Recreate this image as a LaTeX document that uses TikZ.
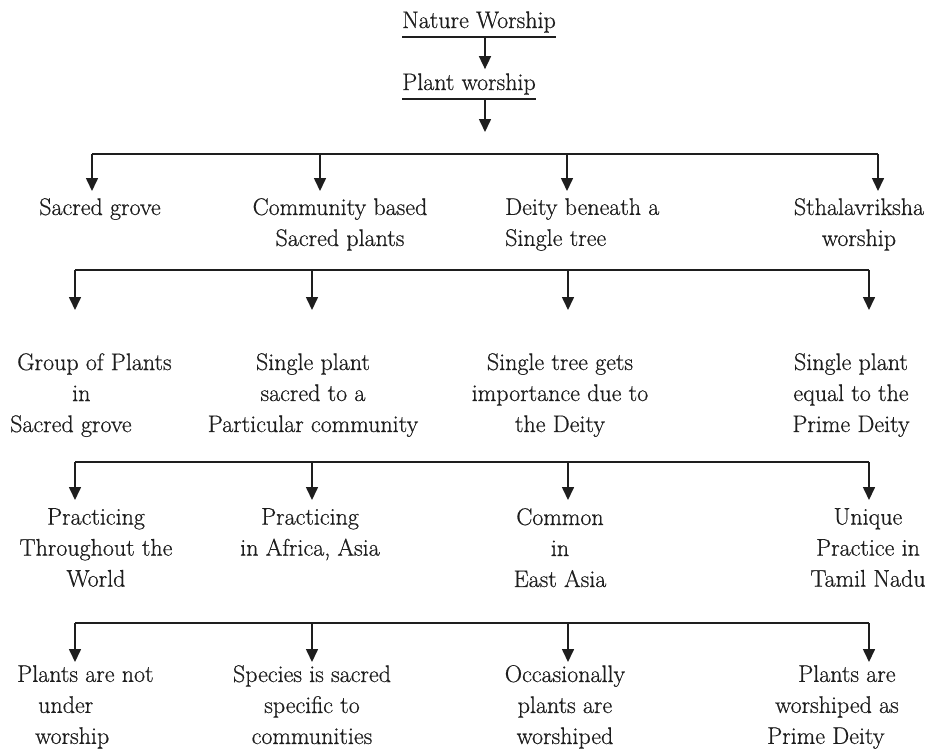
\documentclass[tikz,border=0pt]{standalone}
\usepackage{fontspec}
\setmainfont{Latin Modern Roman}[FakeBold=0.6]
\usetikzlibrary{arrows.meta}
\definecolor{ink}{HTML}{1E1E1E}
\begin{document}
\begin{tikzpicture}[x=1pt,y=-1pt,
  lbl/.style={font=\fontsize{24}{31}\selectfont, text=ink, inner sep=0pt, align=center, anchor=north},
  ttl/.style={font=\fontsize{24}{31}\selectfont, text=ink, inner xsep=0pt, inner ysep=4pt, anchor=base west},
  arr/.style={-{Triangle[width=12pt,length=13pt]}, line width=1.6pt, draw=ink},
  barline/.style={line width=1.6pt, draw=ink}]
\fill[white] (0,0) rectangle (942,753);
\useasboundingbox (0,0) rectangle (942,753);

% title
\node[ttl] (nw) at (402,28) {Nature Worship};
\node[ttl] (plw) at (402,90) {Plant worship};
\draw[barline] (nw.south west) -- (nw.south east);
\draw[barline] (plw.south west) -- (plw.south east);
\coordinate (ax) at (485,0);
\coordinate (t0) at (485,132);
\draw[arr] (nw.south -| ax) -- (plw.north -| ax);
\draw[arr] (plw.south -| ax) -- (t0);

% row 1
\node[lbl] (sg) at (100,198) {Sacred grove};
\node[lbl] (cb) at (340,198) {Community based\\Sacred plants};
\node[lbl, align=left, anchor=north west] (db) at (505,198) {Deity beneath a\\Single tree};
\node[lbl] (st) at (859,198) {Sthalavriksha\\worship};
\coordinate (b1a) at (92,154);
\coordinate (b1b) at (320,154);
\coordinate (b1c) at (567,154);
\coordinate (b1d) at (878,154);
\draw[barline] (b1a) -- (b1d);
\draw[arr] (b1a) -- (b1a |- 0,191);
\draw[arr] (b1b) -- (b1b |- 0,191);
\draw[arr] (b1c) -- (b1c |- 0,191);
\draw[arr] (b1d) -- (b1d |- 0,191);

% row 2
\node[lbl, align=left, anchor=north west] (gp) at (10,353) {\hspace*{7pt}Group of Plants\\\hspace*{62pt}in\\Sacred grove};
\node[lbl] (sp) at (313,353) {Single plant\\sacred to a\\Particular community};
\node[lbl] (stg) at (560,353) {Single tree gets\\importance due to\\the Deity};
\node[lbl] (spe) at (851,353) {Single plant\\equal to the\\Prime Deity};
\coordinate (b2a) at (75,270);
\coordinate (b2b) at (312,270);
\coordinate (b2c) at (568,270);
\coordinate (b2d) at (869,270);
\draw[barline] (b2a) -- (b2d);
\draw[arr] (b2a) -- (b2a |- 0,310);
\draw[arr] (b2b) -- (b2b |- 0,310);
\draw[arr] (b2c) -- (b2c |- 0,310);
\draw[arr] (b2d) -- (b2d |- 0,310);

% row 3
\node[lbl] (pt) at (96,508) {Practicing\\Throughout the\\World};
\node[lbl] (pa) at (310,508) {Practicing\\in Africa, Asia};
\node[lbl] (ce) at (560,508) {Common\\in\\East Asia};
\node[lbl] (up) at (868,508) {Unique\\Practice in\\Tamil Nadu};
\coordinate (b3a) at (75,462);
\coordinate (b3b) at (312,462);
\coordinate (b3c) at (568,462);
\coordinate (b3d) at (869,462);
\draw[barline] (b3a) -- (b3d);
\draw[arr] (b3a) -- (b3a |- 0,500);
\draw[arr] (b3b) -- (b3b |- 0,500);
\draw[arr] (b3c) -- (b3c |- 0,500);
\draw[arr] (b3d) -- (b3d |- 0,500);

% row 4
\node[lbl, align=left, anchor=north west] (pn) at (17,665) {Plants are not\\\hspace*{21pt}under\\\hspace*{18pt}worship};
\node[lbl] (ss) at (312,665) {Species is sacred\\specific to\\communities};
\node[lbl] (op) at (565,665) {Occasionally\\plants are\\worshiped};
\node[lbl, align=left, anchor=north west] (pwpd) at (767,665) {\hspace*{31pt}Plants are\\\hspace*{8pt}worshiped as\\Prime Deity};
\coordinate (b4a) at (75,623);
\coordinate (b4b) at (312,623);
\coordinate (b4c) at (568,623);
\coordinate (b4d) at (869,623);
\draw[barline] (b4a) -- (b4d);
\draw[arr] (b4a) -- (b4a |- 0,662);
\draw[arr] (b4b) -- (b4b |- 0,662);
\draw[arr] (b4c) -- (b4c |- 0,662);
\draw[arr] (b4d) -- (b4d |- 0,662);
\end{tikzpicture}
\end{document}
